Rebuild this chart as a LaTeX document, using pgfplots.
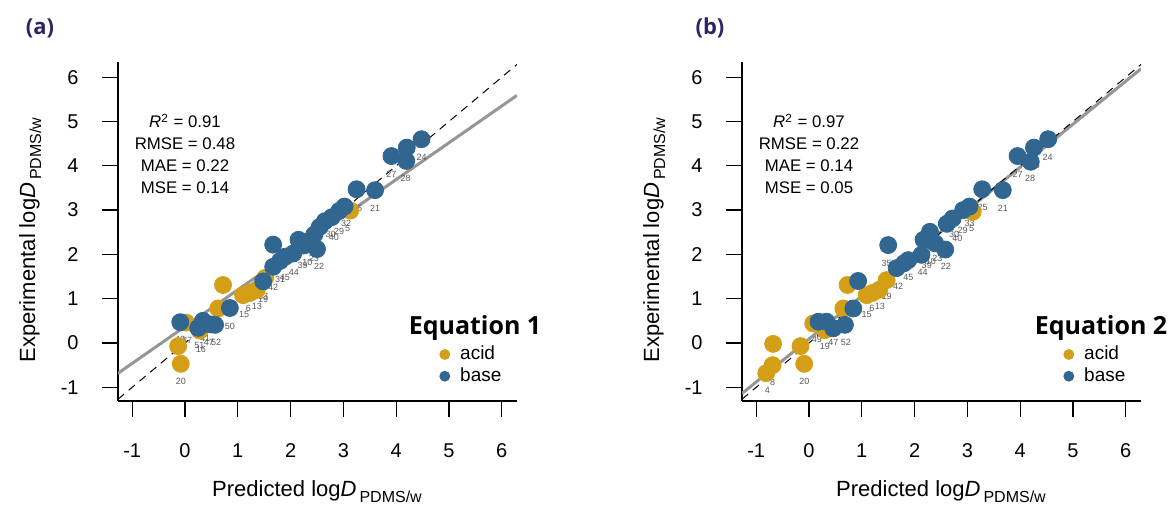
\documentclass[border=0pt]{standalone}
\usepackage{fontspec}
\setmainfont{Liberation Sans}
\newfontfamily\headfont{Open Sans}
\usepackage{pgfplots}
\pgfplotsset{compat=1.18}

\definecolor{acid}{RGB}{212,159,22}
\definecolor{base}{RGB}{48,102,143}
\definecolor{fitgray}{RGB}{150,150,150}
\definecolor{panel}{RGB}{44,36,99}

\newcommand{\logD}{log\textit{D}\hspace{1.5pt}\raisebox{-3pt}{\fontsize{8}{9}\selectfont PDMS/w}}

\pgfplotsset{
  eqaxis/.style={
    scale only axis, width=199.5pt, height=169.5pt,
    anchor=south west,
    xmin=-1.269, xmax=6.288, ymin=-1.309, ymax=6.343,
    axis x line*=bottom, axis y line*=left,
    axis line style={line width=0.6pt, -},
    xtick={-1,...,6}, ytick={-1,...,6},
    tick align=outside, major tick length=8pt,
    tick style={line width=0.6pt, black},
    ticklabel style={font=\fontsize{10}{12}\selectfont},
    /pgf/number format/assume math mode=true,
    xticklabel style={yshift=-9.7pt},
    yticklabel style={xshift=-8.2pt},
    legend style={at={(rel axis cs:0.8045,0.175)}, anchor=north west,
      draw=none, fill=none, inner sep=0pt,
      font=\fontsize{9.5}{11}\selectfont, row sep=-1.5pt,
      /tikz/every odd column/.style={column sep=3pt}},
    legend cell align=left,
    legend image code/.code={\fill[##1] (0pt,0pt) circle (2.5pt);},
  },
  pts/.style={only marks, mark=*, mark size=4.25pt},
}

\tikzset{
  lbl/.style={font=\fontsize{4.5}{5}\selectfont, text=black!65, inner sep=0pt},
  stat/.style={font=\fontsize{8.4}{10}\selectfont, anchor=base},
  lab/.style={font=\fontsize{11}{13}\selectfont, anchor=base},
  head/.style={font=\headfont\bfseries\fontsize{12.5}{14}\selectfont, anchor=base},
  tag/.style={font=\headfont\bfseries\fontsize{11}{13}\selectfont, text=panel},
}

\begin{document}
\begin{tikzpicture}
\path[use as bounding box] (0,0) rectangle (586.5pt,253pt);

% ---------- (a) Equation 1
\begin{axis}[eqaxis, at={(59pt,52.5pt)}]
\addplot[fitgray, line width=1.5pt, forget plot] coordinates {(-1.269,-0.683) (6.288,5.589)};
\addplot[pts, acid, forget plot] coordinates {
(-0.13,-0.07) (-0.08,-0.47) (0.02,0.46) (0.28,0.28) (0.63,0.78) (0.72,1.31)
(1.10,1.08) (1.23,1.13) (1.36,1.20) (1.52,1.47) (3.13,2.99)};
\addplot[pts, base, forget plot] coordinates {
(-0.09,0.47) (0.25,0.34) (0.34,0.50) (0.57,0.41) (0.48,0.42) (0.85,0.79)
(1.48,1.39) (1.67,1.72) (1.80,1.85) (1.90,1.95) (1.67,2.22) (2.05,2.02)
(2.15,2.33) (2.25,2.20) (2.35,2.30) (2.50,2.12) (2.45,2.45) (2.55,2.62)
(2.65,2.75) (2.78,2.84) (2.92,2.98) (3.02,3.08) (3.25,3.47) (3.60,3.45)
(3.91,4.22) (4.19,4.11) (4.20,4.41) (4.48,4.60)};
\addplot[black, line width=0.5pt, dash pattern=on 4pt off 3pt, forget plot] coordinates {(-1.269,-1.269) (6.288,6.288)};
\addlegendimage{acid}\addlegendentry{acid}
\addlegendimage{base}\addlegendentry{base}
\node[lbl] at (axis cs:-0.08,-0.87) {20};
\node[lbl] at (axis cs:4.48,4.18) {24};
\node[lbl] at (axis cs:3.91,3.81) {27};
\node[lbl] at (axis cs:4.18,3.72) {28};
\node[lbl] at (axis cs:3.60,3.05) {21};
\node[lbl] at (axis cs:3.26,3.04) {25};
\node[lbl] at (axis cs:3.05,2.69) {32};
\node[lbl] at (axis cs:3.08,2.59) {5};
\node[lbl] at (axis cs:2.76,2.45) {30};
\node[lbl] at (axis cs:2.82,2.38) {40};
\node[lbl] at (axis cs:2.92,2.51) {29};
\node[lbl] at (axis cs:2.44,1.91) {23};
\node[lbl] at (axis cs:2.54,1.72) {22};
\node[lbl] at (axis cs:2.32,1.82) {10};
\node[lbl] at (axis cs:2.23,1.76) {39};
\node[lbl] at (axis cs:2.06,1.59) {44};
\node[lbl] at (axis cs:1.89,1.47) {45};
\node[lbl] at (axis cs:1.80,1.44) {31};
\node[lbl] at (axis cs:1.67,1.26) {42};
\node[lbl] at (axis cs:1.48,1.05) {33};
\node[lbl] at (axis cs:1.48,0.98) {19};
\node[lbl] at (axis cs:1.36,0.82) {13};
\node[lbl] at (axis cs:1.20,0.78) {6};
\node[lbl] at (axis cs:1.12,0.65) {15};
\node[lbl] at (axis cs:0.85,0.38) {50};
\node[lbl] at (axis cs:0.59,0.02) {52};
\node[lbl] at (axis cs:0.45,0.01) {47};
\node[lbl] at (axis cs:0.38,0.11) {41};
\node[lbl] at (axis cs:0.27,-0.05) {51};
\node[lbl] at (axis cs:0.30,-0.14) {16};
\node[lbl] at (axis cs:-0.09,0.07) {49};
\node[lbl] at (axis cs:0.04,0.05) {37};
\end{axis}

% ---------- (b) Equation 2
\begin{axis}[eqaxis, at={(371pt,52.5pt)}]
\addplot[fitgray, line width=1.5pt, forget plot] coordinates {(-1.269,-1.141) (6.288,6.189)};
\addplot[pts, acid, forget plot] coordinates {
(-0.81,-0.68) (-0.69,-0.50) (-0.68,-0.02) (-0.16,-0.07) (-0.09,-0.47)
(0.08,0.44) (0.30,0.29) (0.65,0.78) (0.73,1.31) (1.09,1.08) (1.20,1.13)
(1.33,1.20) (1.47,1.42) (3.10,2.96)};
\addplot[pts, base, forget plot] coordinates {
(0.18,0.48) (0.33,0.48) (0.46,0.33) (0.68,0.41) (0.84,0.78) (0.93,1.40)
(1.50,2.21) (1.66,1.69) (1.80,1.80) (1.88,1.87) (2.13,1.99) (2.17,2.33)
(2.29,2.51) (2.39,2.25) (2.58,2.11) (2.61,2.69) (2.72,2.81) (2.92,3.00)
(3.04,3.08) (3.28,3.47) (3.67,3.45) (3.95,4.22) (4.20,4.09) (4.26,4.41)
(4.53,4.60)};
\addplot[black, line width=0.5pt, dash pattern=on 4pt off 3pt, forget plot] coordinates {(-1.269,-1.269) (6.288,6.288)};
\addlegendimage{acid}\addlegendentry{acid}
\addlegendimage{base}\addlegendentry{base}
\node[lbl] at (axis cs:-0.79,-1.08) {4};
\node[lbl] at (axis cs:-0.69,-0.90) {8};
\node[lbl] at (axis cs:-0.09,-0.87) {20};
\node[lbl] at (axis cs:4.52,4.18) {24};
\node[lbl] at (axis cs:4.28,4.00) {26};
\node[lbl] at (axis cs:3.95,3.81) {27};
\node[lbl] at (axis cs:4.19,3.72) {28};
\node[lbl] at (axis cs:3.67,3.05) {21};
\node[lbl] at (axis cs:3.29,3.05) {25};
\node[lbl] at (axis cs:3.04,2.69) {33};
\node[lbl] at (axis cs:3.08,2.59) {5};
\node[lbl] at (axis cs:2.75,2.44) {30};
\node[lbl] at (axis cs:2.81,2.36) {40};
\node[lbl] at (axis cs:2.91,2.54) {29};
\node[lbl] at (axis cs:2.43,1.91) {23};
\node[lbl] at (axis cs:2.59,1.72) {22};
\node[lbl] at (axis cs:2.31,1.84) {10};
\node[lbl] at (axis cs:2.23,1.76) {39};
\node[lbl] at (axis cs:2.15,1.59) {44};
\node[lbl] at (axis cs:1.88,1.47) {45};
\node[lbl] at (axis cs:1.69,1.27) {42};
\node[lbl] at (axis cs:1.47,1.80) {35};
\node[lbl] at (axis cs:1.47,1.05) {19};
\node[lbl] at (axis cs:1.34,0.82) {13};
\node[lbl] at (axis cs:1.19,0.78) {6};
\node[lbl] at (axis cs:1.09,0.65) {15};
\node[lbl] at (axis cs:0.70,0.02) {52};
\node[lbl] at (axis cs:0.46,0.01) {47};
\node[lbl] at (axis cs:0.30,-0.08) {19};
\node[lbl] at (axis cs:0.15,0.07) {49};
\end{axis}

% ---------- texts
\node[tag] at (20pt,239pt) {(a)};
\node[tag] at (355pt,239pt) {(b)};

\node[stat] at (92.5pt,189pt) {\textit{R}\textsuperscript{2} = 0.91};
\node[stat] at (92.5pt,178pt) {RMSE = 0.48};
\node[stat] at (92.5pt,167pt) {MAE = 0.22};
\node[stat] at (92.5pt,156pt) {MSE = 0.14};

\node[stat] at (404.5pt,189pt) {\textit{R}\textsuperscript{2} = 0.97};
\node[stat] at (404.5pt,178pt) {RMSE = 0.22};
\node[stat] at (404.5pt,167pt) {MAE = 0.14};
\node[stat] at (404.5pt,156pt) {MSE = 0.05};

\node[head] at (237.5pt,85.5pt) {Equation 1};
\node[head] at (550.5pt,85.5pt) {Equation 2};

\node[lab] at (158.5pt,4.8pt) {Predicted \logD};
\node[lab] at (470.5pt,4.8pt) {Predicted \logD};
\node[lab, rotate=90] at (17.5pt,133pt) {Experimental \logD};
\node[lab, rotate=90] at (329.5pt,133pt) {Experimental \logD};
\end{tikzpicture}
\end{document}
